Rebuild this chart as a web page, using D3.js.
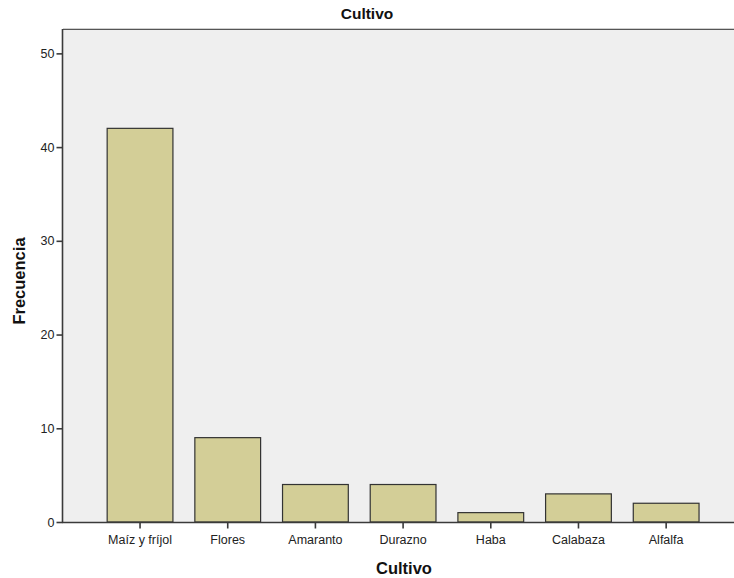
<!DOCTYPE html>
<html><head><meta charset="utf-8">
<script src="https://cdn.jsdelivr.net/npm/d3@7"></script>
<style>body{margin:0;background:#fff}svg{display:block}</style>
</head><body>
<svg id="c" width="734" height="578"></svg>
<script>
const categories = ["Maíz y fríjol","Flores","Amaranto","Durazno","Haba","Calabaza","Alfalfa"];
const values = [42, 9, 4, 4, 1, 3, 2];
const yTicks = [0, 10, 20, 30, 40, 50];

const svg = d3.select("#c");
const L = 63, R = 734, T = 29, B = 522;
const font = "'Liberation Sans', Arial, sans-serif";

svg.append("rect").attr("x", L).attr("y", T).attr("width", R - L).attr("height", B - T).attr("fill", "#efefef");
svg.append("line").attr("x1", L).attr("x2", R).attr("y1", T - 0.5).attr("y2", T - 0.5).attr("stroke", "#cfcfcf").attr("stroke-width", 1);
svg.append("line").attr("x1", L).attr("x2", R).attr("y1", T + 0.5).attr("y2", T + 0.5).attr("stroke", "#555").attr("stroke-width", 1.2);

const y = d3.scaleLinear().domain([0, 52.6]).range([B, T]);
const x = d3.scaleBand().domain(categories).range([96.2, 710]).paddingInner(0.25).paddingOuter(0.125);

svg.selectAll("rect.bar").data(values).enter().append("rect").attr("class", "bar")
  .attr("x", (d, i) => x(categories[i]))
  .attr("width", x.bandwidth())
  .attr("y", d => y(d))
  .attr("height", d => B - y(d))
  .attr("fill", "#d3ce97")
  .attr("stroke", "#333")
  .attr("stroke-width", 1.2);

const yAxis = d3.axisLeft(y).tickValues(yTicks).tickSize(6).tickPadding(2).tickSizeOuter(0);
const gy = svg.append("g").attr("transform", `translate(${L - 0.5},0)`).call(yAxis);
gy.select(".domain").attr("stroke", "#3a3a3a").attr("stroke-width", 1.6).attr("d", `M0,${T}V${B}`);
gy.selectAll(".tick line").attr("stroke", "#3a3a3a").attr("stroke-width", 1.6);
gy.selectAll(".tick text").attr("font-family", font).attr("font-size", 12.5).attr("fill", "#222");

const xAxis = d3.axisBottom(x).tickSize(6).tickPadding(7).tickSizeOuter(0);
const gx = svg.append("g").attr("transform", `translate(0,${B + 0.5})`).call(xAxis);
gx.select(".domain").attr("stroke", "#3a3a3a").attr("stroke-width", 1.6).attr("d", `M${L - 1},0H${R}`);
gx.selectAll(".tick line").attr("stroke", "#3a3a3a").attr("stroke-width", 1.6);
gx.selectAll(".tick text").attr("font-family", font).attr("font-size", 12.5).attr("fill", "#222");

svg.append("text").attr("x", 367).attr("y", 19).attr("text-anchor", "middle")
  .attr("font-family", font).attr("font-weight", "bold").attr("font-size", 15.5).attr("fill", "#111").text("Cultivo");
svg.append("text").attr("x", 404).attr("y", 574).attr("text-anchor", "middle")
  .attr("font-family", font).attr("font-weight", "bold").attr("font-size", 16.5).attr("fill", "#111").text("Cultivo");
svg.append("text").attr("transform", `translate(25,281) rotate(-90)`).attr("text-anchor", "middle")
  .attr("font-family", font).attr("font-weight", "bold").attr("font-size", 16.5).attr("fill", "#111").text("Frecuencia");
</script>
</body></html>
